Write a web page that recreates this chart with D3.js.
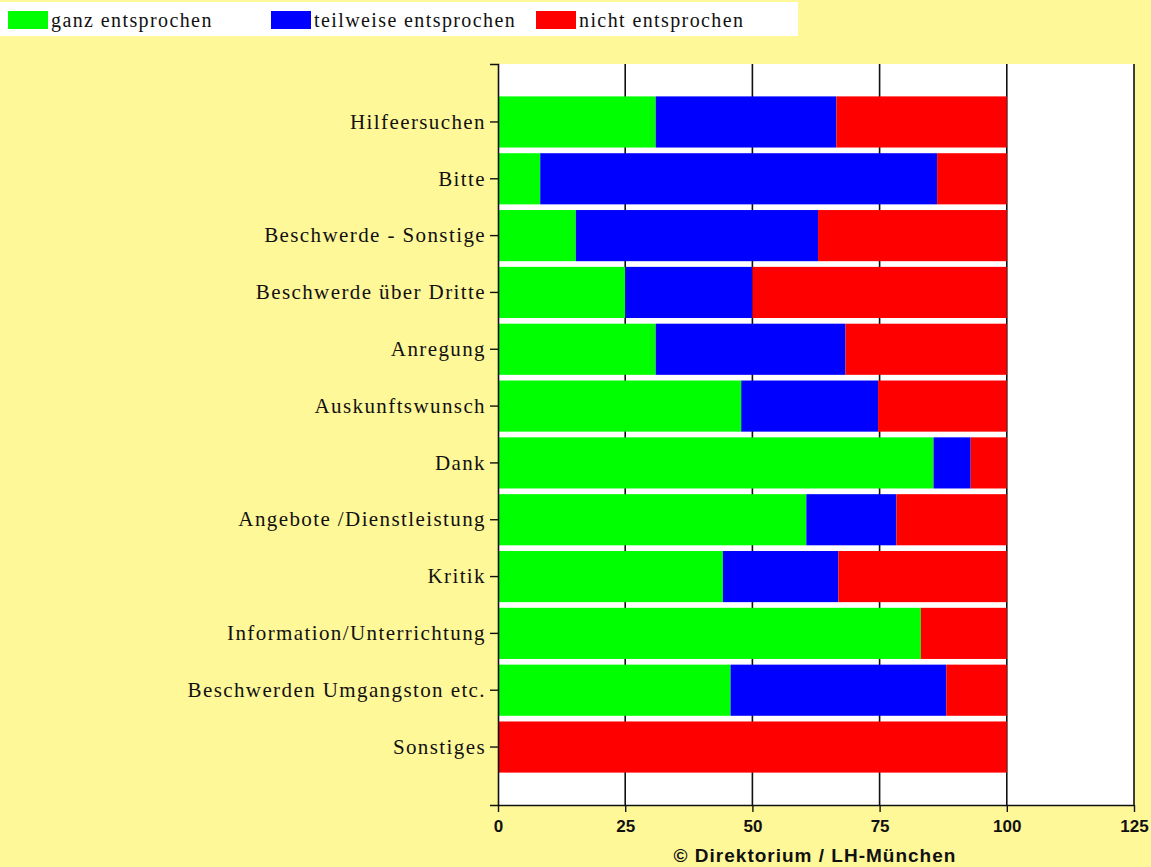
<!DOCTYPE html>
<html>
<head>
<meta charset="utf-8">
<script src="https://cdn.jsdelivr.net/npm/d3@7"></script>
<style>
  html, body { margin: 0; padding: 0; background: #fff899; }
  svg { display: block; }
</style>
</head>
<body>
<svg id="chart" width="1151" height="867"></svg>
<script>
// ---- data ----
const categories = [
  "Hilfeersuchen",
  "Bitte",
  "Beschwerde - Sonstige",
  "Beschwerde über Dritte",
  "Anregung",
  "Auskunftswunsch",
  "Dank",
  "Angebote /Dienstleistung",
  "Kritik",
  "Information/Unterrichtung",
  "Beschwerden Umgangston etc.",
  "Sonstiges"
];
const seriesNames = ["ganz entsprochen", "teilweise entsprochen", "nicht entsprochen"];
const ganz      = [31.0,  8.3, 15.3, 25.0, 31.0, 47.8, 85.6, 60.6, 44.2, 83.1, 45.7,   0];
const teilweise = [35.5, 78.0, 47.6, 25.0, 37.3, 26.9,  7.3, 17.7, 22.7,  0.0, 42.4,   0];
const nicht     = [33.5, 13.7, 37.1, 50.0, 31.7, 25.3,  7.1, 21.7, 33.1, 16.9, 11.9, 100];
const xTicks = [0, 25, 50, 75, 100, 125];
const footer = "© Direktorium / LH-München";

const colors = ["#00ff00", "#0000ff", "#ff0000"];

// ---- layout ----
const svg = d3.select("#chart");
const pLeft = 498, pRight = 1134, pTop = 64, pBottom = 805;

const x = d3.scaleLinear().domain([0, 125]).range([pLeft, pRight]);
const y = d3.scaleBand().domain(categories).range([pTop, pBottom])
  .paddingInner(0.1).paddingOuter(0.57);

const rows = categories.map((c, i) => ({
  cat: c, "ganz entsprochen": ganz[i], "teilweise entsprochen": teilweise[i], "nicht entsprochen": nicht[i]
}));
const stack = d3.stack().keys(seriesNames)(rows);

// plot background
svg.append("rect").attr("x", pLeft).attr("y", pTop)
  .attr("width", pRight - pLeft).attr("height", pBottom - pTop).attr("fill", "#ffffff");

// gridlines
svg.append("g").selectAll("line").data(xTicks.filter(d => d > 0)).join("line")
  .attr("x1", d => x(d)).attr("x2", d => x(d))
  .attr("y1", pTop).attr("y2", pBottom)
  .attr("stroke", "#111").attr("stroke-width", 1.6);

// bars
svg.append("g").selectAll("g").data(stack).join("g")
  .attr("fill", (d, i) => colors[i])
  .selectAll("rect").data(d => d).join("rect")
  .attr("x", d => x(d[0]))
  .attr("width", d => Math.max(0, x(d[1]) - x(d[0])))
  .attr("y", d => y(d.data.cat))
  .attr("height", y.bandwidth());

// y axis
const yAxis = svg.append("g").attr("transform", `translate(${pLeft},0)`)
  .call(d3.axisLeft(y).tickSize(8).tickSizeOuter(8).tickPadding(4));
yAxis.select(".domain").attr("stroke", "#111").attr("stroke-width", 1.6);
yAxis.selectAll(".tick line").attr("stroke", "#111").attr("stroke-width", 1.4);
yAxis.selectAll("text")
  .attr("font-family", "'Liberation Serif', 'Times New Roman', serif")
  .attr("font-size", 21).attr("letter-spacing", "1.4px").attr("fill", "#111");

// x axis
const xAxis = svg.append("g").attr("transform", `translate(0,${pBottom})`)
  .call(d3.axisBottom(x).tickValues(xTicks).tickSize(7).tickSizeOuter(0).tickPadding(8));
xAxis.select(".domain").attr("stroke", "#111").attr("stroke-width", 1.6);
xAxis.selectAll(".tick line").attr("stroke", "#111").attr("stroke-width", 1.4);
xAxis.selectAll("text")
  .attr("font-family", "'Liberation Sans', Arial, sans-serif")
  .attr("font-weight", "bold").attr("font-size", 17).attr("fill", "#111");

// legend
const legend = svg.append("g");
legend.append("rect").attr("x", 0).attr("y", 2).attr("width", 798).attr("height", 34).attr("fill", "#ffffff");
const legX = [8, 271, 536];
seriesNames.forEach((name, i) => {
  legend.append("rect").attr("x", legX[i]).attr("y", 11).attr("width", 40).attr("height", 18).attr("fill", colors[i]);
  legend.append("text").attr("x", legX[i] + 43).attr("y", 27)
    .attr("font-family", "'Liberation Serif', 'Times New Roman', serif")
    .attr("font-size", 20).attr("letter-spacing", "1.4px").attr("fill", "#111")
    .text(name);
});

// footer
svg.append("text").attr("x", 815).attr("y", 862).attr("text-anchor", "middle")
  .attr("font-family", "'Liberation Sans', Arial, sans-serif")
  .attr("font-weight", "bold").attr("font-size", 19).attr("letter-spacing", "1px")
  .attr("fill", "#111").text(footer);
</script>
</body>
</html>
